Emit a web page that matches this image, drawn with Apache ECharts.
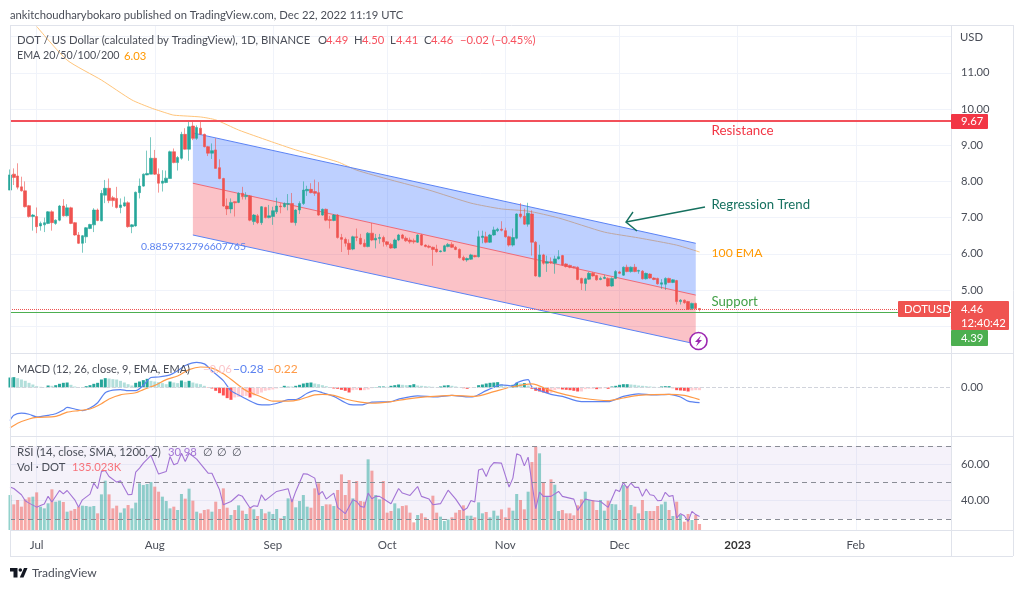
<!DOCTYPE html>
<html><head><meta charset="utf-8">
<style>html,body{margin:0;padding:0;background:#fff}#c{width:1024px;height:589px}</style>
<script src="https://cdn.jsdelivr.net/npm/echarts@6/dist/echarts.min.js"></script>
</head><body><div id="c"></div>
<script>
const monthIndex=[7,38,69,99,130,160,191,222];
const monthLabels=['Jul','Aug','Sep','Oct','Nov','Dec','{b|2023}','Feb'];
const barSlots=248;
const priceTicks=[4,5,6,7,8,9,10,11,12];
const priceLabels=[5,6,7,8,9,10,11];
const opens=[7.76,8.20,8.15,7.85,7.74,7.33,7.03,7.03,6.77,6.80,
6.84,7.16,6.84,6.93,7.32,7.05,7.27,6.86,6.52,6.29,
6.47,6.70,6.80,7.21,6.91,7.62,7.81,7.55,7.53,7.28,
7.32,7.41,6.75,6.77,7.69,7.87,8.18,8.20,8.64,8.20,
7.95,7.97,8.08,8.82,8.52,8.64,9.30,8.89,9.53,9.19,
9.47,9.30,8.96,8.78,8.87,8.38,8.08,7.32,7.24,7.44,
7.42,7.67,7.58,7.60,6.89,7.05,6.86,7.28,7.00,7.03,
7.16,7.32,7.30,7.37,7.39,6.86,7.21,7.39,7.74,7.78,
7.72,7.69,7.07,7.23,6.95,6.92,7.07,6.45,6.40,6.29,
6.13,6.47,6.43,6.29,6.20,6.57,6.38,6.42,6.45,6.33,
6.26,6.16,6.38,6.52,6.43,6.38,6.36,6.32,6.52,6.24,
6.21,6.18,6.13,6.06,6.07,6.20,6.26,6.18,6.12,5.90,
5.83,5.85,5.95,5.92,6.45,6.47,6.32,6.52,6.64,6.68,
6.64,6.47,6.24,6.43,7.10,7.04,6.82,7.10,6.32,5.37,
5.97,5.74,5.78,5.74,5.86,5.95,5.72,5.68,5.64,5.63,
5.32,5.18,5.30,5.46,5.40,5.29,5.32,5.32,5.11,5.32,
5.50,5.41,5.63,5.51,5.63,5.52,5.52,5.31,5.44,5.33,
5.32,5.16,5.16,5.32,5.21,5.26,4.68,4.72,4.68,4.49,
4.63,4.49];
const closes=[8.18,8.11,7.84,7.74,7.30,7.03,7.07,6.75,6.84,6.86,
7.16,6.86,6.93,7.32,7.05,7.27,6.84,6.52,6.29,6.50,
6.72,6.81,7.21,6.92,7.67,7.81,7.47,7.47,7.28,7.35,
7.41,6.75,6.80,7.70,7.87,8.20,8.22,8.64,8.20,7.95,
8.01,8.09,8.82,8.52,8.66,9.30,8.89,9.51,9.19,9.49,
9.30,8.96,8.78,8.85,8.36,8.08,7.32,7.24,7.42,7.41,
7.67,7.58,7.61,6.93,7.07,6.86,7.30,7.00,7.05,7.19,
7.32,7.30,7.39,7.39,6.87,7.21,7.39,7.76,7.78,7.69,
7.67,7.07,7.23,6.93,6.92,7.07,6.45,6.40,6.29,6.12,
6.47,6.45,6.27,6.20,6.57,6.38,6.43,6.45,6.33,6.26,
6.16,6.38,6.52,6.43,6.36,6.33,6.33,6.52,6.24,6.20,
6.18,6.12,6.06,6.08,6.22,6.26,6.18,6.12,5.89,5.83,
5.87,5.97,5.92,6.47,6.49,6.32,6.52,6.66,6.68,6.65,
6.47,6.24,6.45,7.10,7.03,6.82,7.12,6.32,5.39,5.97,
5.74,5.78,5.76,5.86,5.92,5.69,5.65,5.63,5.62,5.29,
5.19,5.31,5.46,5.39,5.28,5.32,5.35,5.11,5.32,5.51,
5.46,5.63,5.51,5.63,5.51,5.54,5.31,5.46,5.33,5.29,
5.17,5.20,5.32,5.21,5.28,4.68,4.72,4.65,4.47,4.63,
4.49,4.46];
const highs=[8.33,8.36,8.50,8.13,8.00,7.35,7.10,7.28,6.89,7.00,
7.18,7.20,6.95,7.35,7.51,7.37,7.30,6.88,6.60,6.52,
6.74,6.83,7.26,7.25,7.76,8.04,8.08,7.60,7.85,7.53,
7.58,7.45,6.82,7.72,8.08,8.22,8.85,9.22,8.87,8.36,
8.31,8.30,8.85,8.91,8.70,9.37,9.47,9.68,9.68,9.55,
9.65,9.32,8.98,9.05,9.19,8.61,8.10,7.53,7.53,7.45,
7.70,7.85,7.70,7.62,7.10,7.10,7.32,7.30,7.35,7.30,
7.55,7.40,7.42,7.65,7.68,7.23,7.45,8.00,7.88,7.95,
8.05,7.98,7.25,7.25,7.05,7.10,7.10,6.55,6.45,6.40,
6.50,6.70,6.55,6.40,6.60,6.85,6.55,6.55,6.50,6.35,
6.30,6.42,6.55,6.55,6.48,6.45,6.42,6.54,6.55,6.26,
6.25,6.20,6.25,6.10,6.25,6.30,6.32,6.22,6.15,5.95,
5.90,6.00,5.97,6.64,6.64,6.61,6.55,6.75,6.72,6.90,
6.72,6.50,6.70,7.12,7.40,7.25,7.41,7.20,6.35,6.25,
6.00,5.95,5.90,5.95,6.10,5.97,5.74,5.70,5.66,5.65,
5.34,5.34,5.50,5.50,5.42,5.37,5.42,5.35,5.35,5.55,
5.53,5.65,5.70,5.65,5.72,5.56,5.55,5.48,5.46,5.35,
5.34,5.30,5.35,5.34,5.30,5.28,4.75,4.74,4.70,4.65,
4.65,4.50];
const lows=[7.76,7.90,7.78,7.72,7.28,7.00,6.64,6.57,6.64,6.60,
6.82,6.64,6.80,6.90,7.03,7.03,6.82,6.50,6.27,6.03,
6.30,6.68,6.60,6.90,6.90,7.40,7.40,7.30,7.25,7.12,
7.30,6.72,6.57,6.75,7.53,7.85,8.17,8.20,8.18,7.69,
7.72,7.95,8.08,8.50,8.30,8.60,8.88,8.57,9.14,9.15,
9.28,8.94,8.70,8.62,8.36,8.06,7.30,7.07,7.12,7.03,
7.40,7.50,7.50,6.90,6.80,6.82,6.80,6.98,6.98,6.80,
7.10,7.12,7.28,7.20,6.85,6.78,7.10,7.35,7.60,7.67,
7.60,7.05,7.05,6.90,6.70,6.90,6.42,6.05,6.20,5.97,
6.10,6.35,6.25,6.18,6.18,6.35,6.15,6.28,6.20,6.20,
6.14,6.14,6.35,6.40,6.33,6.28,6.28,6.30,6.22,6.18,
6.15,5.67,6.03,6.04,6.05,6.18,6.16,6.10,5.87,5.80,
5.78,5.83,5.90,5.90,6.29,6.29,6.30,6.50,6.60,6.62,
6.45,6.20,6.20,6.40,6.98,6.80,6.75,5.95,5.37,5.35,
5.70,5.50,5.72,5.45,5.84,5.67,5.62,5.60,5.60,5.27,
5.00,4.98,5.28,5.37,5.26,5.27,5.30,5.09,5.09,5.30,
5.44,5.39,5.49,5.48,5.49,5.45,5.29,5.29,5.31,5.27,
5.15,5.03,5.00,5.19,5.19,4.60,4.60,4.62,4.45,4.45,
4.47,4.41];
const volumes=[787,577,675,525,690,735,750,847,525,487,
600,915,637,660,630,412,435,472,525,547,
540,525,540,375,802,1110,802,487,547,390,
487,562,487,615,1050,1012,1035,1080,975,862,
750,652,487,525,450,810,705,930,660,412,
375,450,465,412,637,472,937,502,337,450,
555,435,360,502,465,315,472,375,412,360,
472,262,315,712,690,510,652,787,525,502,
937,1050,540,577,577,540,900,1252,787,1125,
712,1102,652,637,1590,1335,787,690,1102,390,
427,600,487,540,555,390,172,337,375,285,
225,772,390,300,202,240,285,390,450,555,
322,322,285,622,375,405,285,435,322,465,
285,502,435,810,675,465,862,1530,1875,1725,
1072,750,1140,1020,427,450,375,375,330,555,
690,862,675,675,450,675,435,660,585,577,
450,1012,990,562,525,375,675,427,427,427,
540,577,637,450,315,637,337,187,360,225,
337,135];
const macdHist=[.190,.197,.178,.152,.127,.089,.057,.025,.013,.006,
.038,.032,.044,.070,.089,.095,.051,.019,.006,.006,
.025,.044,.070,.089,.152,.178,.171,.159,.152,.127,
.095,.063,.038,.089,.114,.140,.165,.127,.114,.102,
.083,.063,.114,.095,.083,.133,.108,.127,.095,.076,
.063,.032,-.006,-.019,-.063,-.108,-.152,-.203,-.235,-.190,
-.178,-.165,-.159,-.190,-.152,-.127,-.095,-.063,-.051,-.038,
-.019,.003,.032,.025,.019,.032,.051,.076,.089,.095,
.076,.063,.044,.025,.006,-.019,-.025,-.044,-.063,-.095,
-.051,-.044,-.051,-.051,-.038,-.013,.006,.019,.019,.013,
.032,.044,.057,.051,.044,.044,.063,.038,.032,.025,
.019,.013,.006,.019,.038,.044,.032,.019,.006,-.013,
-.025,-.006,.003,.044,.057,.076,.089,.095,.102,.063,
.019,.013,.051,.089,.076,.083,.038,-.025,-.063,-.076,
-.095,-.108,-.102,-.051,-.032,-.038,-.044,-.051,-.063,-.076,
-.076,-.032,-.025,-.025,-.032,-.025,-.013,-.025,.019,.032,
.051,.063,.063,.057,.051,.038,.032,.025,.019,.013,
.006,.019,.025,.025,-.013,-.051,-.057,-.063,-.076,-.057,
-.051,-.051];
const emaIndex=[7,15,24,32,37,41,43,50,54,60,68,75,86,91,100,110,121,129,136,144,156,165,175,181];
const emaValues=[12.28,11.35,10.80,10.25,10.03,9.89,9.83,9.78,9.70,9.42,9.12,8.87,8.54,8.31,8.04,7.76,7.40,7.24,7.18,6.99,6.60,6.44,6.24,6.05];
const macdIndex=[0,1,3,5,7,10,12,14,15,17,19,21,23,25,27,29,31,33,35,37,39,42,44,46,49,51,53,56,58,61,65,68,71,73,75,78,80,82,85,89,92,93,95,100,102,107,112,116,120,122,125,129,132,133,136,137,142,145,150,157,161,165,169,173,176,178,181];
const macdValues=[-.63,-.53,-.49,-.51,-.56,-.53,-.50,-.43,-.38,-.41,-.44,-.39,-.29,-.10,-.05,-.04,-.06,-.06,.04,.19,.20,.24,.32,.42,.48,.45,.32,.13,-.06,-.18,-.32,-.33,-.28,-.23,-.23,-.11,-.06,-.10,-.17,-.32,-.33,-.32,-.28,-.27,-.22,-.16,-.18,-.15,-.18,-.17,-.06,.05,.03,.09,.15,.01,-.13,-.17,-.27,-.27,-.17,-.12,-.14,-.13,-.18,-.26,-.29];
const signalIndex=[0,2,5,7,12,15,18,21,24,26,29,33,35,38,41,44,47,50,53,56,59,62,66,69,73,76,80,82,85,88,92,95,100,104,109,116,122,127,131,137,142,146,150,157,161,165,173,177,181];
const signalValues=[-.77,-.68,-.60,-.57,-.55,-.47,-.44,-.41,-.31,-.22,-.14,-.10,-.04,.04,.15,.22,.34,.39,.37,.26,.10,-.06,-.18,-.26,-.26,-.23,-.14,-.13,-.15,-.22,-.28,-.30,-.27,-.22,-.18,-.15,-.17,-.08,0,.07,-.06,-.14,-.20,-.25,-.20,-.15,-.13,-.15,-.23];
const rsiIndex=[0,1,3,4,5,7,8,9,10,11,13,14,15,17,18,19,21,22,23,24,25,26,28,29,31,32,33,34,35,37,39,41,42,43,44,45,46,47,49,52,53,55,56,58,60,61,63,64,65,66,67,70,73,74,75,77,78,80,81,82,83,85,86,88,90,91,
92,93,94,95,96,97,98,100,102,103,105,107,108,110,111,113,115,117,119,120,121,122,123,124,125,126,127,129,131,132,133,134,135,136,138,139,140,142,144,145,148,149,151,153,155,157,159,160,161,162,163,164,165,166,167,168,169,170,171,172,173,174,175,176,177,178,179,180,181];
const rsiValues=[47.5,46.7,43.3,40,38.7,36.5,37.4,38.2,42.4,39.3,45.6,43.8,45.6,40.5,36.4,40.5,43.6,49.7,46.6,56,56.6,53.3,50.2,50.9,43.3,43.5,55.7,57.9,60.6,64.8,54.6,56,64.2,59.7,60.6,66,61.5,66,62.8,55.1,55.1,46,37.8,39.6,43.3,42.4,36,37.3,36.9,43.3,40.2,45.1,46.6,39.3,45.1,54.8,54.6,52.4,43.3,45.1,40.9,44.2,36.4,32.9,40.5,39.6,
36.9,36.4,44.2,41.1,42.4,42.4,41.1,38.4,46.7,44.2,42.9,47.8,42.4,40.9,37.8,38.4,45.8,40.9,34.7,36,40.2,39.3,56.9,57.5,53.3,58.4,60.9,60.6,47.5,52.4,65.7,64.8,59.1,63.9,35.6,44.7,42.4,42.4,45.1,42.4,40.9,34.7,40.9,40,39.6,36.4,46,45.1,50,46.9,49.7,47.3,47.3,42.4,46.4,43.3,42.9,40,40.2,44.6,42.4,42.9,30.5,32.9,31.8,28.7,34.2,32.4,31.4];
const channelIndex=[48,180];
const channelUpper=[9.34,6.29];
const channelMiddle=[7.95,4.86];
const channelLower=[6.52,3.51];
const resistance=9.67, support=4.39, lastPrice=4.46;

const FONT='Lato, "Open Sans", sans-serif';
const UP='#26a69a',DOWN='#ef5350',GRID='#f0f3fa',PANE='#e0e3eb',AXIS='#4a4e58',TXT='#4a4e58';
const SZ=11.25;
const chart=echarts.init(document.getElementById('c'),null,{renderer:'canvas'});
const pairs=(a,b)=>a.map((x,i)=>[x,b[i]]);
const categories=Array.from({length:barSlots},(_,i)=>{const m=monthIndex.indexOf(i);return m>=0?monthLabels[m]:String(i)});
const isMonth=i=>monthIndex.includes(i);
const xAxis=g=>({type:'category',gridIndex:g,data:categories,boundaryGap:false,
  axisLine:{show:false},axisTick:{show:false},
  splitLine:{show:true,interval:isMonth,lineStyle:{color:GRID,width:1}},
  axisPointer:{show:false},
  axisLabel:g===2?{show:true,interval:isMonth,margin:9,color:AXIS,fontFamily:FONT,fontSize:11.5,formatter:v=>v,
     rich:{b:{fontWeight:'bold',color:'#333',fontFamily:FONT,fontSize:11.5}}}:{show:false}});
const yBase=(g,min,max,ticks,labels)=>({type:'value',gridIndex:g,position:'right',min,max,scale:true,
  axisLine:{show:false},
  axisTick:{show:false,customValues:ticks},
  splitLine:{show:true,lineStyle:{color:GRID,width:1}},
  axisLabel:{show:true,customValues:labels,margin:10,color:AXIS,fontFamily:FONT,fontSize:11.2,formatter:v=>v.toFixed(2)}});

const histColors=macdHist.map((v,i)=>{const p=i?macdHist[i-1]:0;
  return v>=0?(v>=p?'#26a69a':'#b2dfdb'):(v<p?'#ff5252':'#ffcdd2')});
const bandItem=(a,b)=>[channelIndex[0],channelIndex[1],a[0],a[1],b[0],b[1]];
const bandRender=(params,api)=>{
  const p=[api.coord([api.value(0),api.value(2)]),api.coord([api.value(1),api.value(3)]),
           api.coord([api.value(1),api.value(5)]),api.coord([api.value(0),api.value(4)])];
  return {type:'polygon',shape:{points:p},style:{fill:params.dataIndex===0?'rgba(41,98,255,0.3)':'rgba(242,54,69,0.3)'}};
};
const chLine=(vals,color)=>({type:'line',xAxisIndex:0,yAxisIndex:0,data:pairs(channelIndex,vals),showSymbol:false,symbol:'none',z:3,silent:true,
  lineStyle:{color,width:1}});
const priceLine=(v,color,type,width)=>({yAxis:v,lineStyle:{color,type,width},symbol:'none',label:{show:false}});

const T=(x,y,text,fill,size)=>({type:'text',x,y,silent:true,z:50,
  style:{text,fill,font:`${size||SZ}px ${FONT}`,verticalAlign:'middle'}});
const box=(x,y,w,h,fill)=>({type:'rect',x,y,silent:true,z:40,shape:{x:0,y:0,width:w,height:h,r:1},style:{fill}});
const hl=(x1,y,x2,c)=>({type:'line',silent:true,z:30,shape:{x1,y1:y+.5,x2,y2:y+.5},style:{stroke:c||PANE,lineWidth:1}});
const vl=(x,y1,y2,c)=>({type:'line',silent:true,z:30,shape:{x1:x+.5,y1,x2:x+.5,y2},style:{stroke:c||PANE,lineWidth:1}});

const graphic=[
 hl(10,25,1013),hl(10,556,1013),vl(10,25,556),vl(1013,25,556),vl(951,25,556),
 hl(10,353,1013),hl(10,436,1013),hl(10,530,1013),
 T(10,15,'ankitchoudharybokaro published on TradingView.com, Dec 22, 2022 11:19 UTC',TXT),
 T(17,40,'DOT / US Dollar (calculated by TradingView), 1D, BINANCE',TXT),
 T(318,40,'O',TXT),T(326,40,'4.49','#f7525f'),
 T(354,40,'H',TXT),T(362,40,'4.50','#f7525f'),
 T(390,40,'L',TXT),T(396,40,'4.41','#f7525f'),
 T(424,40,'C',TXT),T(431,40,'4.46','#f7525f'),
 T(460,40,'−0.02 (−0.45%)','#f7525f'),
 T(17,56,'EMA 20/50/100/200',TXT,10.7),T(124,56,'6.03','#ff9800'),
 T(960,37,'USD',TXT),
 T(711.5,131,'Resistance','#f23645',13.4),
 T(711.5,205,'Regression Trend','#15705f',13.2),
 T(711.5,253,'100 EMA','#ff9800',12.2),
 T(711.5,302,'Support','#43a047',13.2),
 T(141,247,'0.8859732796607765','#5b82f0',10.4),
 {type:'polyline',silent:true,z:45,shape:{points:[[705,207],[626,222]]},style:{stroke:'#15705f',lineWidth:1.4,fill:null}},
 {type:'polyline',silent:true,z:45,shape:{points:[[633,212],[626,222],[637,231]]},style:{stroke:'#15705f',lineWidth:1.4,fill:null}},
 {type:'circle',silent:true,z:45,shape:{cx:698.5,cy:341,r:8.5},style:{fill:'#fff',stroke:'#9c27b0',lineWidth:1.6}},
 {type:'polygon',silent:true,z:46,shape:{points:[[701,335.5],[695,342],[698,342],[696,346.5],[702,340],[699,340]]},style:{fill:'#9c27b0'}},
 box(951,114,37,15,'#f23645'),T(961,121.5,'9.67','#fff'),
 box(898,301,52,16,'#ef5350'),T(904,309,'DOTUSD','#fff'),
 box(951,301,58,29,'#ef5350'),T(961,309,'4.46','#fff'),T(961,323,'12:40:42','#fff'),
 box(951,330,37,16,'#4caf50'),T(961,338,'4.39','#fff'),
 T(17,369,'MACD (12, 26, close, 9, EMA, EMA)',TXT,11),
 T(203,369,'−0.06','#fbc6ca'),T(233,369,'−0.28','#5b82f0',12),T(267,369,'−0.22','#ff9a47',12),
 T(17,452,'RSI (14, close, SMA, 1200, 2)',TXT,11.4),
 T(168,452,'30.98','#a374d5'),T(203,452,'∅',TXT),T(217,452,'∅',TXT),T(232,452,'∅',TXT),
 T(17,467,'Vol · DOT',TXT),T(72,467,'135.023K','#f7727a'),
 {type:'polygon',silent:true,z:46,shape:{points:[[10,568],[17.5,568],[17.5,577.5],[13.5,577.5],[13.5,571.5],[10,571.5]]},style:{fill:'#131722'}},
 {type:'circle',silent:true,z:46,shape:{cx:20.3,cy:570,r:1.8},style:{fill:'#131722'}},
 {type:'polygon',silent:true,z:46,shape:{points:[[24,568],[27.5,568],[23.5,577.5],[19.8,577.5]]},style:{fill:'#131722'}},
 T(32,573,'TradingView',TXT,12),
];

chart.setOption({
 animation:false,backgroundColor:'#fff',
 grid:[{left:10,right:73,top:26,height:327},{left:10,right:73,top:354,height:82},{left:10,right:73,top:437,height:93}],
 xAxis:[xAxis(0),xAxis(1),xAxis(2)],
 yAxis:[yBase(0,3.26,12.293,priceTicks,priceLabels),
        Object.assign(yBase(1,-.924,.638,[0],[0]),{splitLine:{show:false}}),
        yBase(2,23.97,74.93,[40,60],[40,60]),
        {type:'value',gridIndex:2,min:0,max:2093,show:false}],
 graphic,
 series:[
  {type:'line',name:'EMA100',xAxisIndex:0,yAxisIndex:0,data:pairs(emaIndex,emaValues),showSymbol:false,symbol:'none',z:1,smooth:.2,
   lineStyle:{color:'#ffc47a',width:1}},
  {type:'custom',name:'Channel',xAxisIndex:0,yAxisIndex:0,z:2,renderItem:bandRender,silent:true,clip:true,
   data:[bandItem(channelUpper,channelMiddle),bandItem(channelMiddle,channelLower)]},
  chLine(channelUpper,'#5b83f5'),chLine(channelMiddle,'#ee6a78'),chLine(channelLower,'#5b83f5'),
  {type:'candlestick',name:'DOTUSD',xAxisIndex:0,yAxisIndex:0,z:4,barWidth:3,
   data:opens.map((o,i)=>[o,closes[i],lows[i],highs[i]]),
   itemStyle:{color:UP,color0:DOWN,borderColor:'rgba(38,166,154,0.6)',borderColor0:'rgba(239,83,80,0.6)',borderWidth:1},
   markLine:{silent:true,symbol:'none',animation:false,z:5,data:[
     priceLine(resistance,'#f2505a','solid',2),
     priceLine(support,'#4caf50','solid',1.2),
     priceLine(lastPrice,'#ef5350','dotted',1)]}},
  {type:'bar',name:'Histogram',xAxisIndex:1,yAxisIndex:1,barWidth:3,z:2,
   data:macdHist.map((v,i)=>({value:v,itemStyle:{color:histColors[i]}})),
   markLine:{silent:true,symbol:'none',animation:false,label:{show:false},lineStyle:{color:'#d1d4dc',type:'dashed',width:1},data:[{yAxis:0}]}},
  {type:'line',name:'MACD',xAxisIndex:1,yAxisIndex:1,data:pairs(macdIndex,macdValues),showSymbol:false,symbol:'none',z:3,smooth:.25,lineStyle:{color:'#5b82f0',width:1.2}},
  {type:'line',name:'Signal',xAxisIndex:1,yAxisIndex:1,data:pairs(signalIndex,signalValues),showSymbol:false,symbol:'none',z:3,smooth:.25,lineStyle:{color:'#ff9a47',width:1.2}},
  {type:'line',name:'RSIBand',xAxisIndex:2,yAxisIndex:2,data:[],z:1,
   markArea:{silent:true,itemStyle:{color:'rgba(126,87,194,0.08)'},data:[[{yAxis:70},{yAxis:30}]]}},
  {type:'bar',name:'Volume',xAxisIndex:2,yAxisIndex:3,barWidth:3,z:2,
   data:volumes.map((v,i)=>({value:v,itemStyle:{color:closes[i]>=opens[i]?'rgba(38,166,154,0.5)':'rgba(239,83,80,0.5)'}}))},
  {type:'line',name:'RSI',xAxisIndex:2,yAxisIndex:2,data:pairs(rsiIndex,rsiValues),showSymbol:false,symbol:'none',z:4,
   lineStyle:{color:'#a374d5',width:1.1},
   markLine:{silent:true,symbol:'none',animation:false,label:{show:false},lineStyle:{color:'#8a8d96',type:[5,4],width:1},
     data:[{yAxis:70},{yAxis:50},{yAxis:30}]}},
 ]
});
</script></body></html>
